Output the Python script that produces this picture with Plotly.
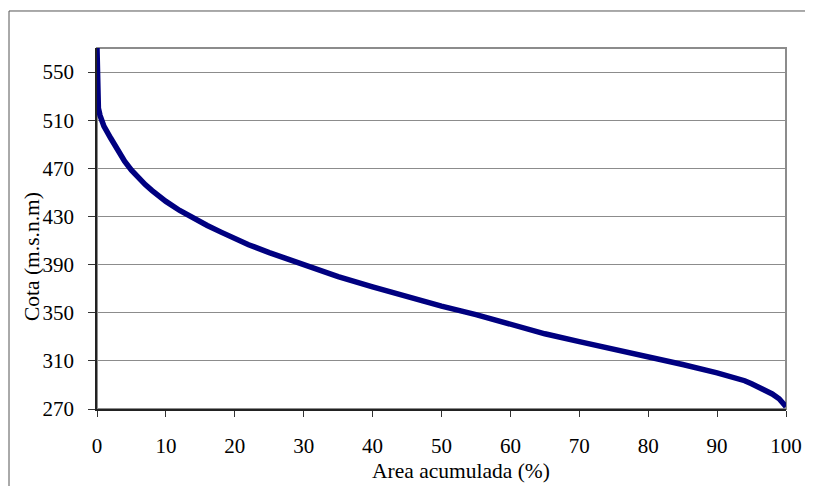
import plotly.graph_objects as go

area_pct = [0, 0.05, 0.1, 0.2, 0.44, 1, 2, 3, 4, 5, 6, 7, 8, 9, 10, 12, 14, 16, 18, 20,
            22, 25, 30, 35, 40, 45, 50, 55, 60, 65, 70, 75, 80, 85, 90, 92, 94, 95,
            96, 97, 98, 99, 99.5, 100]
cota = [570, 556, 534, 520, 514, 505, 495, 484.5, 476, 468.5, 462, 456.5, 451.5, 447,
        442.5, 435, 428.5, 422.5, 417, 411.5, 406.5, 400, 389.5, 380, 371.5, 363,
        355.5, 348.5, 340.5, 332.5, 326, 320, 313.5, 307, 300, 297, 293.5, 291,
        288.5, 285.5, 282.5, 278.5, 276, 272]

y_ticks = [270, 310, 350, 390, 430, 470, 510, 550]
x_ticks = [0, 10, 20, 30, 40, 50, 60, 70, 80, 90, 100]

FONT = "Liberation Serif, Times New Roman, serif"
FS = 21
TFS = 21.5

fig = go.Figure()
fig.add_trace(go.Scatter(x=area_pct, y=cota, mode="lines",
                         line=dict(color="#000080", width=5.5), showlegend=False))

fig.update_layout(
    width=805, height=478,
    margin=dict(l=89, r=27, t=40, b=77),
    paper_bgcolor="white", plot_bgcolor="white",
    font=dict(family=FONT, size=FS, color="black"),
    xaxis=dict(range=[0, 100], tickvals=x_ticks, ticks="outside", ticklen=6,
               tickcolor="#333", showgrid=False, zeroline=False, showline=True,
               linecolor="#222", linewidth=1.5, ticklabelstandoff=11,
               tickfont=dict(family=FONT, size=FS)),
    yaxis=dict(range=[270, 570], tickvals=y_ticks, ticks="outside", ticklen=7,
               tickcolor="#333", showgrid=True, gridcolor="#8c8c8c", gridwidth=1.2,
               zeroline=False, showline=True, linecolor="#222", linewidth=1.5,
               ticklabelstandoff=10, tickfont=dict(family=FONT, size=FS)),
    shapes=[
        dict(type="rect", xref="paper", yref="paper", x0=0, x1=1, y0=0, y1=1,
             line=dict(color="#8c8c8c", width=2), layer="below"),
        dict(type="rect", xref="paper", yref="paper", x0=-0.1277, x1=1.2,
             y0=-0.4, y1=1.1025, line=dict(color="#555", width=1), layer="below"),
    ],
    annotations=[
        dict(text="Area acumulada (%)", xref="paper", yref="paper", x=0.528,
             y=-0.171, showarrow=False, xanchor="center", yanchor="middle",
             font=dict(family=FONT, size=TFS)),
        dict(text="Cota (m.s.n.m)", xref="paper", yref="paper", x=-0.0943,
             y=0.421, showarrow=False, xanchor="center", yanchor="middle",
             textangle=-90, font=dict(family=FONT, size=TFS)),
    ],
)

fig.write_html("out.html")
